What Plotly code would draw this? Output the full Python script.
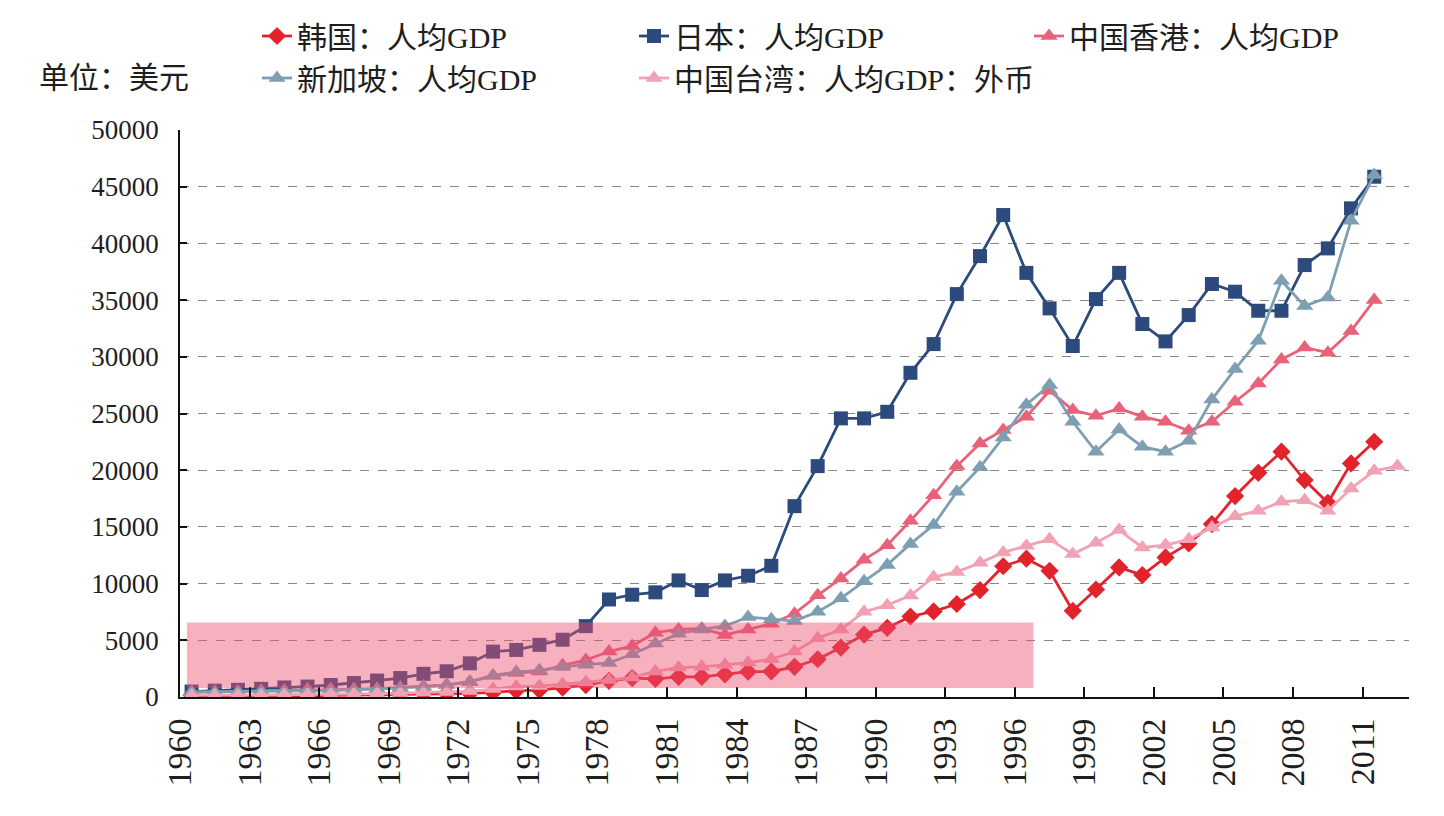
import plotly.graph_objects as go

years = list(range(1960, 2012))
years_tw = list(range(1960, 2013))

korea = [160, 95, 105, 145, 125, 110, 135, 160, 200, 245, 280, 300, 320, 400, 560, 610, 830, 1050,
         1430, 1670, 1600, 1780, 1780, 2000, 2230, 2250, 2660, 3330, 4360, 5500, 6100, 7100, 7550,
         8200, 9430, 11530, 12200, 11130, 7600, 9480, 11430, 10750, 12310, 13540, 15250, 17720,
         19770, 21630, 19130, 17130, 20600, 22510]
japan = [480, 560, 630, 720, 840, 920, 1060, 1230, 1450, 1670, 2040, 2270, 2970, 4000, 4150, 4600,
         5050, 6250, 8600, 9020, 9230, 10280, 9430, 10280, 10690, 11570, 16830, 20360, 24570, 24570,
         25150, 28590, 31120, 35530, 38880, 42500, 37400, 34270, 30950, 35090, 37400, 32890, 31360,
         33680, 36420, 35740, 34060, 34060, 38090, 39560, 43090, 45880]
hongkong = [430, 445, 485, 555, 585, 680, 695, 715, 715, 825, 925, 1055, 1350, 1865, 2120, 2250,
            2790, 3260, 4010, 4500, 5670, 5960, 6050, 5470, 5960, 6460, 7350, 8970, 10460, 12110,
            13380, 15540, 17800, 20360, 22360, 23540, 24720, 27010, 25300, 24800, 25450, 24720,
            24270, 23480, 24270, 26040, 27650, 29770, 30830, 30360, 32270, 35000]
singapore = [430, 450, 470, 510, 485, 515, 565, 625, 710, 810, 925, 1070, 1330, 1900, 2200, 2350,
             2650, 2850, 3000, 3770, 4710, 5580, 5960, 6260, 7050, 6860, 6700, 7520, 8700, 10200,
             11650, 13500, 15160, 18100, 20250, 22890, 25780, 27510, 24270, 21630, 23600, 22070,
             21630, 22600, 26240, 28920, 31420, 36710, 34470, 35240, 42000, 46030]
taiwan = [160, 150, 160, 175, 200, 215, 235, 265, 305, 345, 390, 445, 520, 695, 920, 965, 1130,
          1300, 1490, 1730, 2250, 2600, 2660, 2840, 3040, 3330, 4010, 5180, 5960, 7510, 8100, 8940,
          10580, 11030, 11830, 12750, 13330, 13900, 12600, 13600, 14720, 13190, 13400, 13900, 14950,
          15950, 16420, 17220, 17360, 16420, 18390, 19950, 20360]

names = ["韩国：人均GDP", "日本：人均GDP", "中国香港：人均GDP", "新加坡：人均GDP", "中国台湾：人均GDP：外币"]
tick_years = list(range(1960, 2012, 3))
y_ticks = list(range(0, 50001, 5000))
unit_label = "单位：美元"

# highlighted period (data coordinates)
RECT_X = [1959.8, 1996.3]
RECT_Y = [800, 6560]

FONT_LATIN = "Liberation Serif, Times New Roman, Noto Sans CJK SC, serif"
FONT_MIX = "Liberation Serif, Noto Sans CJK SC, serif"
TXT = "#1e1e1e"

fig = go.Figure()

styles = [
    dict(color="#E3232C", symbol="diamond", size=14, legend="legend"),
    dict(color="#2C4A7C", symbol="square", size=14, legend="legend2"),
    dict(color="#E8627A", symbol="triangle-up", size=15, legend="legend3"),
    dict(color="#7E9FB2", symbol="triangle-up", size=15, legend="legend"),
    dict(color="#F2A2B5", symbol="triangle-up", size=15, legend="legend2"),
]
series = [(years, korea), (years, japan), (years, hongkong), (years, singapore), (years_tw, taiwan)]

for (xs, ys), name, st in zip(series, names, styles):
    fig.add_trace(go.Scatter(
        x=xs, y=ys, name=name, mode="lines+markers",
        line=dict(color=st["color"], width=2.8),
        marker=dict(color=st["color"], symbol=st["symbol"], size=st["size"], line=dict(width=0)),
        legend=st["legend"],
    ))

fig.add_shape(type="rect", xref="x", yref="y", x0=RECT_X[0], x1=RECT_X[1], y0=RECT_Y[0], y1=RECT_Y[1],
              fillcolor="rgba(235,80,110,0.45)", line=dict(width=0), layer="above")

fig.add_annotation(text=unit_label, xref="paper", yref="paper", x=(37 - 180) / 1229, y=1 + (130 - 77) / 567,
                   xanchor="left", yanchor="middle", showarrow=False,
                   font=dict(family=FONT_MIX, size=30, color=TXT))

leg_common = dict(orientation="v", xref="container", yref="container", yanchor="top", xanchor="left",
                  font=dict(family=FONT_MIX, size=30, color=TXT), bgcolor="rgba(0,0,0,0)",
                  tracegroupgap=0, itemwidth=30, traceorder="normal")

fig.update_layout(
    width=1444, height=816,
    margin=dict(l=180, r=35, t=130, b=119, autoexpand=False),
    paper_bgcolor="white", plot_bgcolor="white",
    showlegend=True,
    legend=dict(x=257 / 1444, y=1 - 10 / 816, **leg_common),
    legend2=dict(x=634 / 1444, y=1 - 10 / 816, **leg_common),
    legend3=dict(x=1029 / 1444, y=1 - 10 / 816, **leg_common),
    xaxis=dict(
        range=[1959.5, 2012.5],
        tickmode="array",
        tickvals=[y - 0.5 for y in tick_years],
        ticktext=[str(y) for y in tick_years],
        tickangle=-90,
        ticks="inside", ticklen=10, tickwidth=1.5, tickcolor="#111",
        showline=True, linecolor="#111", linewidth=2,
        showgrid=False, zeroline=False,
        tickfont=dict(family=FONT_LATIN, size=34, color=TXT),
        ticklabelstandoff=6,
        automargin=False,
    ),
    yaxis=dict(
        range=[0, 50000],
        tickmode="array",
        tickvals=y_ticks,
        ticktext=[str(v) for v in y_ticks],
        ticks="inside", ticklen=7, tickwidth=1.5, tickcolor="#111",
        showline=True, linecolor="#111", linewidth=1.5,
        showgrid=True, gridcolor="#888888", gridwidth=1, griddash="dash",
        zeroline=False,
        tickfont=dict(family=FONT_LATIN, size=27, color=TXT),
        ticklabelstandoff=14,
        automargin=False,
    ),
)

fig.write_html("out.html")
